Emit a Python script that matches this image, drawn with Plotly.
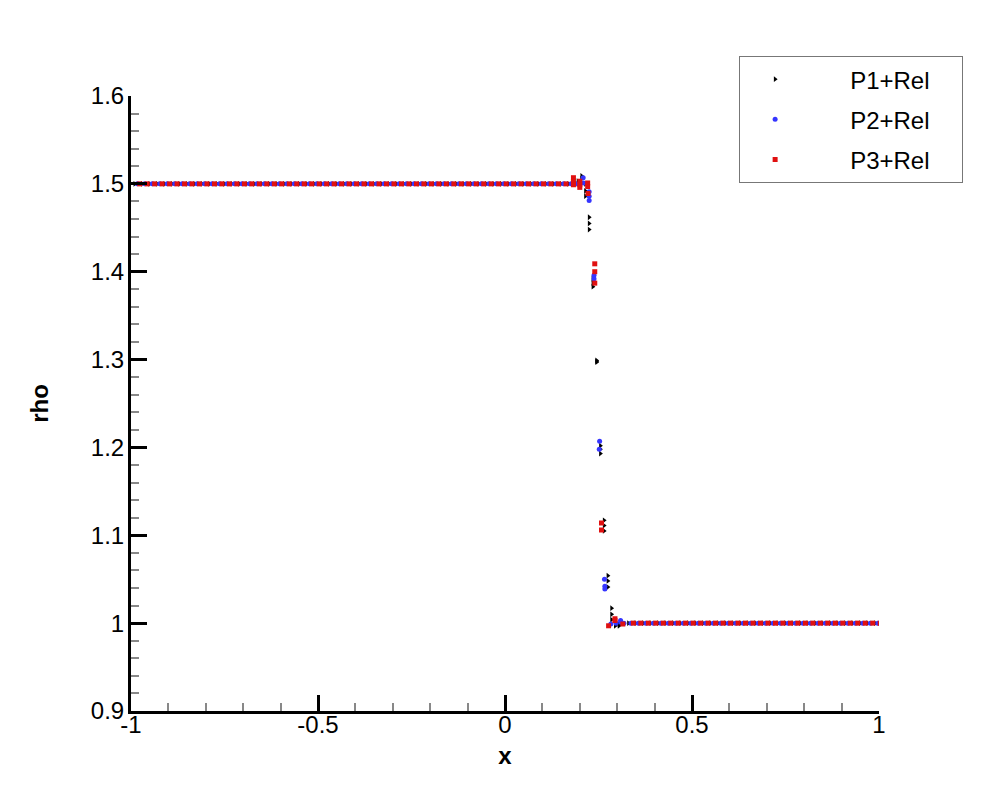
import plotly.graph_objects as go

# sample positions in the two constant states (every 0.02)
cells_left = [
    -0.99, -0.97, -0.95, -0.93, -0.91, -0.89, -0.87, -0.85, -0.83, -0.81,
    -0.79, -0.77, -0.75, -0.73, -0.71, -0.69, -0.67, -0.65, -0.63, -0.61,
    -0.59, -0.57, -0.55, -0.53, -0.51, -0.49, -0.47, -0.45, -0.43, -0.41,
    -0.39, -0.37, -0.35, -0.33, -0.31, -0.29, -0.27, -0.25, -0.23, -0.21,
    -0.19, -0.17, -0.15, -0.13, -0.11, -0.09, -0.07, -0.05, -0.03, -0.01,
    0.01, 0.03, 0.05, 0.07, 0.09, 0.11, 0.13, 0.15, 0.17,
]
cells_right = [
    0.33, 0.35, 0.37, 0.39, 0.41, 0.43, 0.45, 0.47, 0.49,
    0.51, 0.53, 0.55, 0.57, 0.59, 0.61, 0.63, 0.65, 0.67, 0.69,
    0.71, 0.73, 0.75, 0.77, 0.79, 0.81, 0.83, 0.85, 0.87, 0.89,
    0.91, 0.93, 0.95, 0.97, 0.99,
]
rho_left = 1.5
rho_right = 1.0

# points around the shock
p1_x = [0.185, 0.195, 0.195, 0.205, 0.205, 0.205, 0.215, 0.215, 0.215,
        0.225, 0.225, 0.225, 0.235, 0.235, 0.235, 0.245, 0.245, 0.245,
        0.255, 0.255, 0.255, 0.265, 0.265, 0.265, 0.275, 0.275, 0.275,
        0.285, 0.285, 0.285, 0.295, 0.295, 0.305, 0.305, 0.305, 0.315]
p1_y = [1.500, 1.503, 1.500, 1.509, 1.506, 1.502, 1.500, 1.492, 1.486,
        1.462, 1.455, 1.448, 1.392, 1.387, 1.383, 1.299, 1.298, 1.297,
        1.202, 1.198, 1.193, 1.117, 1.111, 1.105, 1.054, 1.048, 1.041,
        1.017, 1.010, 1.004, 0.998, 0.997, 0.997, 0.998, 0.999, 1.000]

p2_x = [0.188, 0.198, 0.209, 0.210, 0.225, 0.225, 0.225, 0.238, 0.238,
        0.253, 0.252, 0.266, 0.267, 0.267, 0.283, 0.297, 0.309, 0.310, 0.318]
p2_y = [1.500, 1.500, 1.507, 1.501, 1.491, 1.486, 1.481, 1.396, 1.392,
        1.207, 1.198, 1.050, 1.042, 1.039, 0.999, 1.000, 1.003, 1.001, 1.000]

p3_x = [0.183, 0.183, 0.183, 0.200, 0.200, 0.200, 0.221, 0.221, 0.222,
        0.240, 0.240, 0.240, 0.258, 0.258, 0.277, 0.294, 0.294, 0.315]
p3_y = [1.507, 1.503, 1.499, 1.503, 1.499, 1.496, 1.501, 1.497, 1.489,
        1.409, 1.400, 1.387, 1.114, 1.106, 0.997, 1.005, 1.003, 0.999]

x_ticks = [-1, -0.5, 0, 0.5, 1]
x_labels = ['-1', '-0.5', '0', '0.5', '1']
y_ticks = [0.9, 1.0, 1.1, 1.2, 1.3, 1.4, 1.5, 1.6]
y_labels = ['0.9', '1', '1.1', '1.2', '1.3', '1.4', '1.5', '1.6']

FONT = 'Liberation Sans, Arial, sans-serif'
NBSP = '\u00a0'

# name, shock x, shock y, phase within the sample spacing, colour, symbol
series = [
    ('P1+Rel', p1_x, p1_y, 0.0, 'black', 'triangle-right'),
    ('P2+Rel', p2_x, p2_y, 0.0067, '#3535ff', 'circle'),
    ('P3+Rel', p3_x, p3_y, 0.0133, '#e01010', 'square'),
]

fig = go.Figure()
for name, sx, sy, shift, color, symbol in series:
    xs = [c + shift for c in cells_left] + sx + [c + shift for c in cells_right]
    ys = [rho_left] * len(cells_left) + sy + [rho_right] * len(cells_right)
    fig.add_trace(go.Scatter(
        x=xs, y=ys, mode='markers', name=NBSP * 6 + name + NBSP * 4,
        legendgroup=name,
        marker=dict(symbol=symbol, color=color, size=5, line=dict(width=0)),
    ))

axis_common = dict(
    showline=True, linecolor='black', linewidth=3, mirror=False,
    showgrid=False, zeroline=False, automargin=False,
    ticks='inside', ticklen=16, tickwidth=3, tickcolor='black',
    tickfont=dict(family=FONT, size=24, color='black'),
    minor=dict(ticks='inside', ticklen=8, tickwidth=1.5, tickcolor='#888888'),
)

fig.update_xaxes(
    range=[-1, 1], tickvals=x_ticks, ticktext=x_labels,
    ticklabelstandoff=-10,
    title=dict(text='<b>x</b>', font=dict(family=FONT, size=24, color='black'), standoff=11),
    **axis_common,
)
fig.update_xaxes(minor_dtick=0.1)
fig.update_yaxes(
    range=[0.9, 1.6], tickvals=y_ticks, ticktext=y_labels,
    ticklabelstandoff=-1,
    title=dict(text='<b>rho</b>', font=dict(family=FONT, size=24, color='black'), standoff=36),
    **axis_common,
)
fig.update_yaxes(minor_dtick=0.02)

# the page body adds 8 px on the top and left
fig.update_layout(
    width=1000, height=800,
    margin=dict(l=123, r=129, t=88, b=97, autoexpand=False),
    plot_bgcolor='white', paper_bgcolor='white',
    font=dict(family=FONT, color='black'),
    showlegend=True,
    legend=dict(
        x=0.813, y=1.065, xanchor='left', yanchor='top',
        bgcolor='white', bordercolor='#777777', borderwidth=1,
        font=dict(family=FONT, size=24, color='black'),
        tracegroupgap=6, itemsizing='trace', itemwidth=60,
    ),
)

fig.write_html("out.html")
